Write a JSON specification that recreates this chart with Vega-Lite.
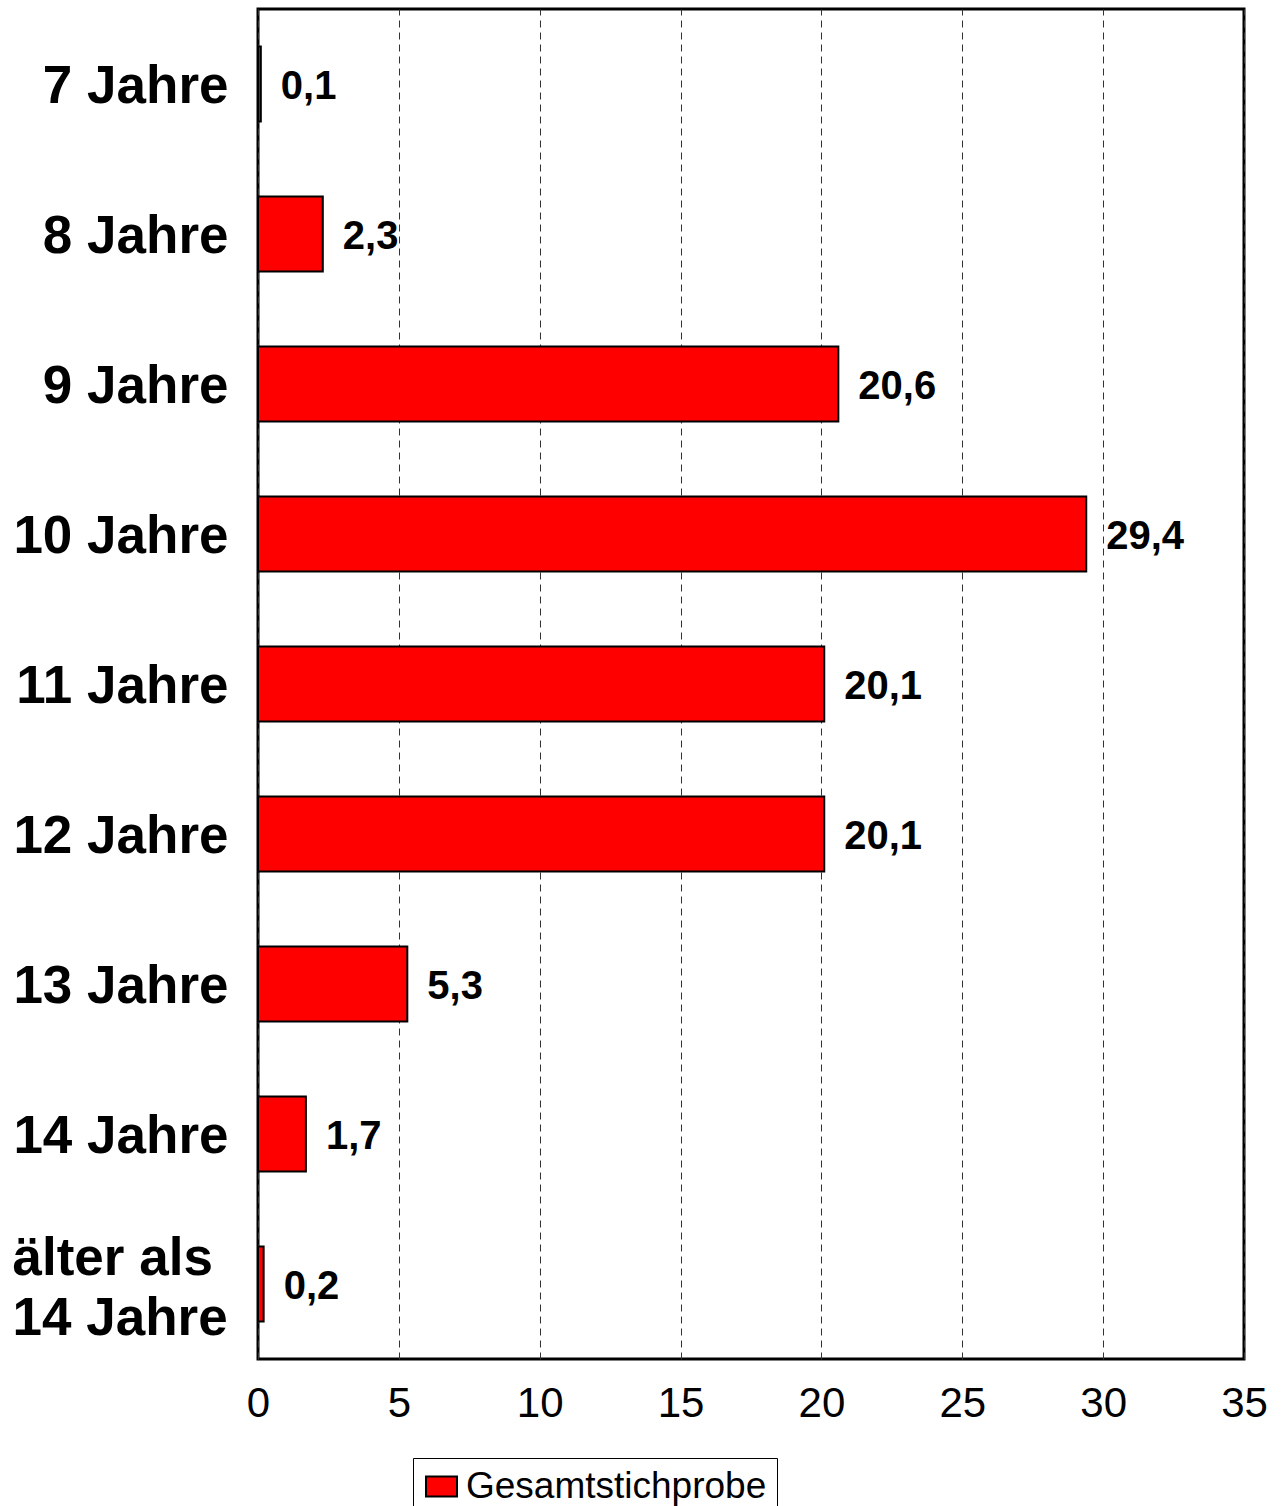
{
  "$schema": "https://vega.github.io/schema/vega-lite/v6.json",
  "width": 986,
  "height": 1350,
  "autosize": {"type": "none"},
  "padding": {"left": 258, "top": 9, "right": 40, "bottom": 147},
  "background": "white",
  "config": {
    "font": "Liberation Sans",
    "view": {"stroke": "black", "strokeWidth": 3},
    "locale": {"number": {"decimal": ",", "thousands": ".", "grouping": [3], "currency": ["", " €"]}}
  },
  "data": {
    "values": [
      {"age": "7 Jahre", "value": 0.1, "series": "Gesamtstichprobe"},
      {"age": "8 Jahre", "value": 2.3, "series": "Gesamtstichprobe"},
      {"age": "9 Jahre", "value": 20.6, "series": "Gesamtstichprobe"},
      {"age": "10 Jahre", "value": 29.4, "series": "Gesamtstichprobe"},
      {"age": "11 Jahre", "value": 20.1, "series": "Gesamtstichprobe"},
      {"age": "12 Jahre", "value": 20.1, "series": "Gesamtstichprobe"},
      {"age": "13 Jahre", "value": 5.3, "series": "Gesamtstichprobe"},
      {"age": "14 Jahre", "value": 1.7, "series": "Gesamtstichprobe"},
      {"age": "älter als 14 Jahre", "value": 0.2, "series": "Gesamtstichprobe"}
    ]
  },
  "encoding": {
    "y": {
      "field": "age",
      "type": "nominal",
      "sort": null,
      "scale": {"paddingInner": 0.5, "paddingOuter": 0.25},
      "axis": {
        "title": null,
        "domain": false,
        "ticks": false,
        "grid": false,
        "labelFont": "Liberation Sans",
        "labelFontSize": 53,
        "labelFontWeight": "bold",
        "labelColor": "black",
        "labelLimit": 400,
        "labelLineHeight": 60,
        "labelAlign": {"condition": {"test": "datum.value == 'älter als 14 Jahre'", "value": "left"}, "value": "right"},
        "labelPadding": {"condition": {"test": "datum.value == 'älter als 14 Jahre'", "value": 246}, "value": 30},
        "labelOffset": {"condition": {"test": "datum.value == 'älter als 14 Jahre'", "value": -25}, "value": 3},
        "labelExpr": "datum.label == 'älter als 14 Jahre' ? ['älter als', '14 Jahre'] : datum.label"
      }
    },
    "x": {
      "field": "value",
      "type": "quantitative",
      "scale": {"domain": [0, 35], "nice": false},
      "axis": {
        "title": null,
        "values": [0, 5, 10, 15, 20, 25, 30, 35],
        "format": "d",
        "domain": false,
        "ticks": false,
        "grid": true,
        "gridColor": "#333333",
        "gridDash": [7, 5],
        "gridWidth": 1,
        "gridOpacity": 1,
        "labelFont": "Liberation Sans",
        "labelFontSize": 42,
        "labelColor": "black",
        "labelPadding": 24,
        "labelFlush": false
      }
    }
  },
  "layer": [
    {
      "mark": {"type": "bar", "stroke": "black", "strokeWidth": 2},
      "encoding": {
        "color": {
          "field": "series",
          "type": "nominal",
          "scale": {"range": ["#ff0000"]},
          "legend": {
            "title": null,
            "orient": "none",
            "legendX": 155,
            "legendY": 1449,
            "strokeColor": "black",
            "fillColor": "white",
            "padding": 10,
            "symbolType": "M-1,-0.65L1,-0.65L1,0.65L-1,0.65Z",
            "symbolSize": 961,
            "symbolStrokeColor": "black",
            "symbolStrokeWidth": 2,
            "symbolOpacity": 1,
            "labelFont": "Liberation Sans",
            "labelFontSize": 37,
            "labelColor": "black",
            "labelOffset": 6,
            "labelLimit": 500
          }
        }
      }
    },
    {
      "mark": {
        "type": "text",
        "align": "left",
        "baseline": "middle",
        "dx": 20,
        "dy": 3,
        "font": "Liberation Sans",
        "fontSize": 40,
        "fontWeight": "bold",
        "color": "black"
      },
      "encoding": {
        "text": {"field": "value", "type": "quantitative", "format": ".1f"}
      }
    }
  ]
}
